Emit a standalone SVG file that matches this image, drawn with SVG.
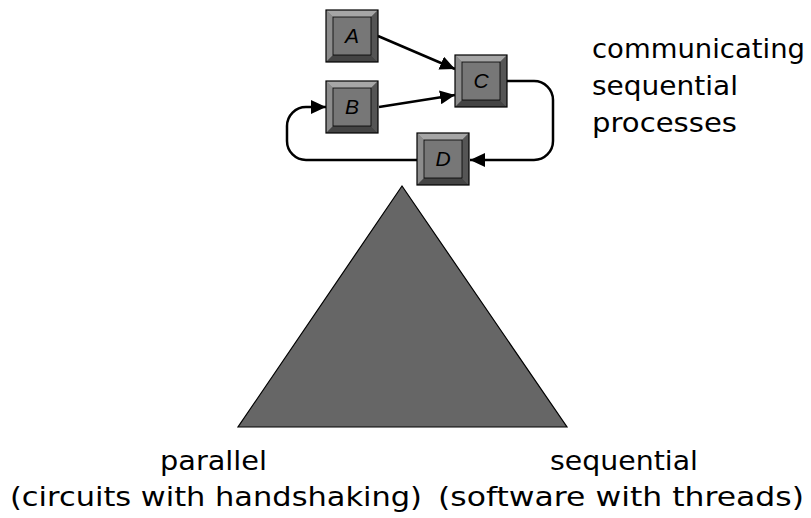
<svg xmlns="http://www.w3.org/2000/svg" xmlns:xlink="http://www.w3.org/1999/xlink" width="811" height="518" viewBox="0 0 811 518">
<style>
.lbl{font-family:"Comic Sans MS","DejaVu Sans",sans-serif;font-size:27px;fill:#000}
.key{font-family:"Liberation Sans",Arial,sans-serif;font-style:italic;font-size:21px;fill:#000;text-anchor:middle}
.con{fill:none;stroke:#000;stroke-width:2.5}
</style>
<defs>
<marker id="ah" markerUnits="userSpaceOnUse" markerWidth="16" markerHeight="14" refX="15" refY="7" orient="auto">
<path d="M0,0 L15,7 L0,14 z" fill="#000"/>
</marker>
<g id="btn">
<rect x="0" y="0" width="52" height="52" fill="#777"/>
<polygon points="0,0 52,0 45,7 7,7" fill="#a6a6a6"/>
<polygon points="0,0 7,7 7,45 0,52" fill="#8c8c8c"/>
<polygon points="52,0 52,52 45,45 45,7" fill="#555"/>
<polygon points="0,52 52,52 45,45 7,45" fill="#444"/>
<rect x="7" y="7" width="38" height="38" fill="#777" stroke="#000" stroke-width="0.8"/>
<rect x="0" y="0" width="52" height="52" fill="none" stroke="#000" stroke-width="1.2"/>
</g>
</defs>
<rect width="811" height="518" fill="#fff"/>
<g id="connectors">
<line class="con" x1="378" y1="36" x2="455" y2="69" marker-end="url(#ah)"/>
<line class="con" x1="379" y1="107" x2="455" y2="95" marker-end="url(#ah)"/>
<path class="con" d="M507,81 H534 A19,19 0 0 1 553,100 V141 A19,19 0 0 1 534,160 H470" marker-end="url(#ah)"/>
<path class="con" d="M417,160 H306 A19,19 0 0 1 287,141 V126 A19,19 0 0 1 306,107 H326" marker-end="url(#ah)"/>
</g>
<g id="A"><use xlink:href="#btn" x="326" y="10"/><text class="key" x="352" y="43">A</text></g>
<g id="B"><use xlink:href="#btn" x="326" y="81"/><text class="key" x="352" y="114">B</text></g>
<g id="C"><use xlink:href="#btn" x="455" y="55"/><text class="key" x="481" y="88">C</text></g>
<g id="D"><use xlink:href="#btn" x="417" y="133"/><text class="key" x="443" y="166">D</text></g>
<g id="triangle"><polygon points="402,186 238,427 567,427" fill="#666" stroke="#000" stroke-width="1.2"/></g>
<g id="labels">
<text class="lbl" x="592" y="58" textLength="213" lengthAdjust="spacingAndGlyphs">communicating</text>
<text class="lbl" x="592" y="95" textLength="146" lengthAdjust="spacingAndGlyphs">sequential</text>
<text class="lbl" x="592" y="132" textLength="145" lengthAdjust="spacingAndGlyphs">processes</text>
<text class="lbl" x="160" y="470" textLength="107" lengthAdjust="spacingAndGlyphs">parallel</text>
<text class="lbl" x="10" y="506" textLength="412" lengthAdjust="spacingAndGlyphs">(circuits with handshaking)</text>
<text class="lbl" x="550" y="470" textLength="148" lengthAdjust="spacingAndGlyphs">sequential</text>
<text class="lbl" x="438" y="506" textLength="366" lengthAdjust="spacingAndGlyphs">(software with threads)</text>
</g>
</svg>
